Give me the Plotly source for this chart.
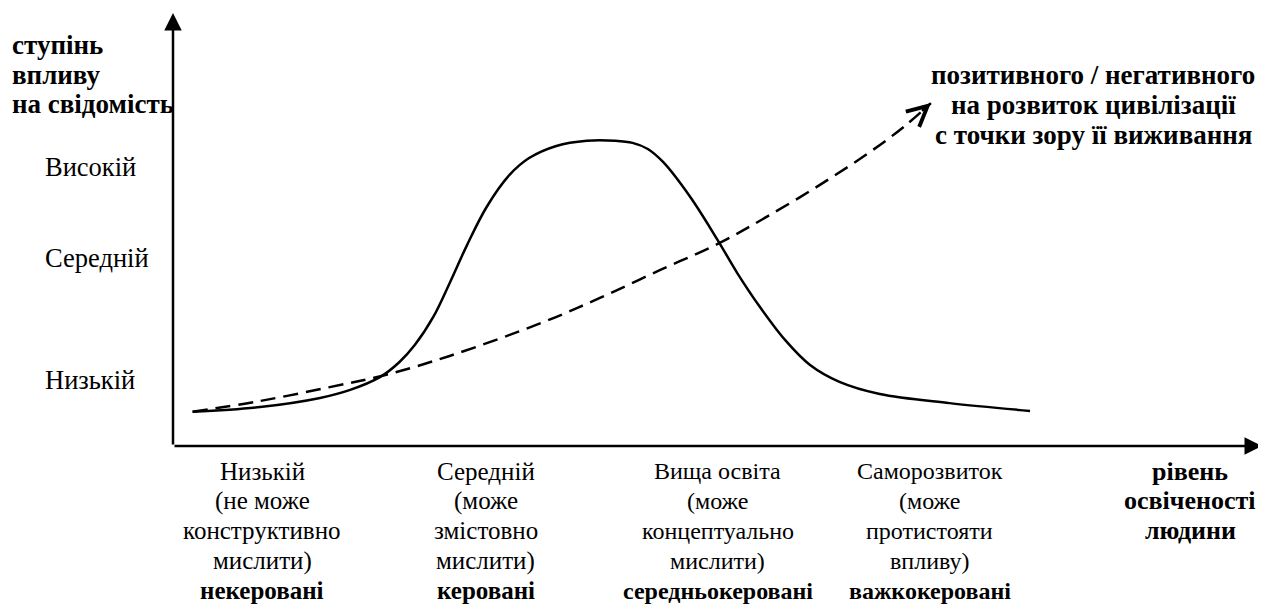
import plotly.graph_objects as go

# ---- data (units: x = education level scale 0..10, y = influence scale 0..10) ----
solid_x = [0.18, 0.80, 1.35, 1.62, 1.90, 2.08, 2.22, 2.39, 2.54, 2.70, 2.88, 3.09, 3.27, 3.52, 3.80,
           4.06, 4.22, 4.36, 4.50, 4.75, 5.00, 5.18, 5.39, 5.62, 5.85, 6.12, 6.49, 7.13, 7.87]
solid_y = [0.79, 0.90, 1.11, 1.29, 1.59, 1.94, 2.33, 2.98, 3.76, 4.64, 5.52, 6.26, 6.65, 6.93, 7.05,
           7.05, 7.00, 6.86, 6.56, 5.75, 4.76, 4.00, 3.21, 2.45, 1.87, 1.48, 1.20, 0.99, 0.81]

dash_x = [0.18, 0.80, 1.44, 1.95, 2.54, 3.40, 3.92, 4.47, 5.02, 5.45, 5.94, 6.40, 6.72, 6.96]
dash_y = [0.79, 1.04, 1.36, 1.64, 2.08, 2.86, 3.42, 4.06, 4.69, 5.29, 6.03, 6.79, 7.39, 7.92]

y_levels = ["Високій", "Середній", "Низькій"]
y_level_pos = [6.45, 4.34, 1.52]

y_title = ["ступінь", "впливу", "на свідомість"]
right_title = ["позитивного / негативного", "на розвиток цивілізації", "с точки зору її виживання"]

x_cat_pos = [0.82, 2.87, 5.00, 6.95]
x_cat_lines = [
    ["Низькій", "(не може", "конструктивно", "мислити)"],
    ["Середній", "(може", "змістовно", "мислити)"],
    ["Вища освіта", "(може", "концептуально", "мислити)"],
    ["Саморозвиток", "(може", "протистояти", "впливу)"],
]
x_cat_bold = ["некеровані", "керовані", "середньокеровані", "важкокеровані"]
x_title = ["рівень", "освіченості", "людини"]
x_title_pos = 9.34

FONT = "Liberation Serif, Times New Roman, serif"
FS = 27
CAT_FS = [25, 25, 24, 24]
W, H = 1266, 609
PXX, PXY = 108.9, 43.3      # pixels per unit
OX, OY = 165, 438           # origin position in figure pixels

XR = [-OX / PXX, (W - OX) / PXX]
YR = [-(H - OY) / PXY, OY / PXY]

fig = go.Figure()
fig.add_trace(go.Scatter(x=solid_x, y=solid_y, mode="lines",
                         line=dict(color="black", width=2.5, shape="spline", smoothing=1.0),
                         hoverinfo="skip", showlegend=False))
fig.add_trace(go.Scatter(x=dash_x, y=dash_y, mode="lines",
                         line=dict(color="black", width=2.5, shape="spline", smoothing=1.0,
                                   dash="15px,8px"),
                         hoverinfo="skip", showlegend=False))

ann = []
# axes arrows
ann.append(dict(x=(1262 - 8 - OX) / PXX, y=0, ax=0, ay=0, xref="x", yref="y", axref="x", ayref="y",
                showarrow=True, arrowhead=2, arrowsize=1.4, arrowwidth=2.5,
                arrowcolor="black", text=""))
ann.append(dict(x=0, y=(OY - 5) / PXY, ax=0, ay=0, xref="x", yref="y", axref="x", ayref="y",
                showarrow=True, arrowhead=2, arrowsize=1.4, arrowwidth=2.5,
                arrowcolor="black", text=""))
# arrow head on dashed curve
tx, ty = dash_x[-1], dash_y[-1]
sx = dash_x[-2] + 0.6 * (tx - dash_x[-2])
sy = dash_y[-2] + 0.6 * (ty - dash_y[-2])
ann.append(dict(x=tx, y=ty, ax=sx, ay=sy, xref="x", yref="y", axref="x", ayref="y",
                showarrow=True, arrowhead=5, arrowsize=1.8, arrowwidth=2.2,
                arrowcolor="black", text=""))

# y level labels
for lab, yp in zip(y_levels, y_level_pos):
    ann.append(dict(x=-1.194, y=yp, xref="x", yref="y", text=lab, showarrow=False,
                    xanchor="left", yanchor="middle",
                    font=dict(family=FONT, size=26.5, color="black")))

# y title
for i, t in enumerate(y_title):
    ann.append(dict(x=-1.50, y=9.26 - i * 0.685, xref="x", yref="y", text="<b>%s</b>" % t,
                    showarrow=False, xanchor="left", yanchor="middle",
                    font=dict(family=FONT, size=FS, color="black")))

# right title
for i, t in enumerate(right_title):
    ann.append(dict(x=8.45, y=8.57 - i * 0.69, xref="x", yref="y", text="<b>%s</b>" % t,
                    showarrow=False, xanchor="center", yanchor="middle",
                    font=dict(family=FONT, size=FS, color="black")))

# x category labels
for xp, lines, b, fs in zip(x_cat_pos, x_cat_lines, x_cat_bold, CAT_FS):
    all_lines = lines + ["<b>%s</b>" % b]
    for i, t in enumerate(all_lines):
        ann.append(dict(x=xp, y=-0.58 - i * 0.69, xref="x", yref="y", text=t,
                        showarrow=False, xanchor="center", yanchor="middle",
                        font=dict(family=FONT, size=fs, color="black")))

for i, t in enumerate(x_title):
    ann.append(dict(x=x_title_pos, y=-0.58 - i * 0.69, xref="x", yref="y", text="<b>%s</b>" % t,
                    showarrow=False, xanchor="center", yanchor="middle",
                    font=dict(family=FONT, size=26, color="black")))

fig.update_layout(
    width=W, height=H,
    margin=dict(l=0, r=0, t=0, b=0),
    paper_bgcolor="white", plot_bgcolor="white",
    xaxis=dict(range=XR, visible=False, fixedrange=True),
    yaxis=dict(range=YR, visible=False, fixedrange=True),
    annotations=ann,
    showlegend=False,
)

fig.write_html("out.html")
